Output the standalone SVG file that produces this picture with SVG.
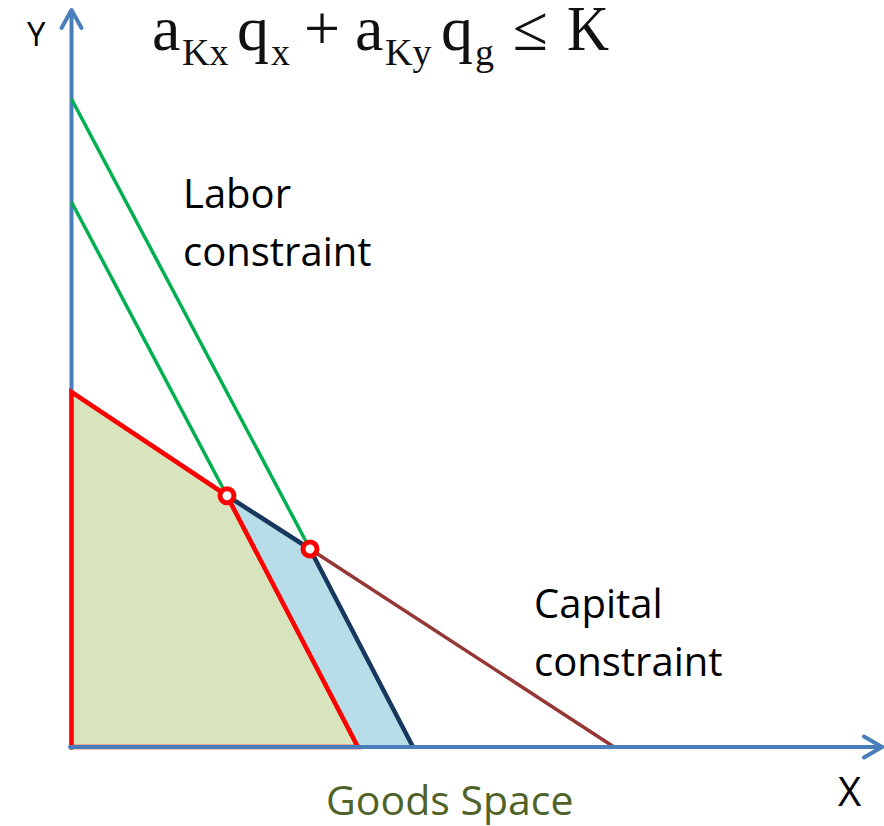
<svg xmlns="http://www.w3.org/2000/svg" width="884" height="826" viewBox="0 0 884 826">
<style>
.axis{stroke:#4A7EBB;stroke-width:4;fill:none;stroke-linecap:round;stroke-linejoin:round}
.lbl{font-family:"Open Sans","Liberation Sans",sans-serif;font-size:40px;fill:#000}
.f{font-family:"Liberation Serif","DejaVu Serif",serif;font-size:64px;fill:#111}
.fs{font-family:"Liberation Serif","DejaVu Serif",serif;font-size:38px;fill:#111}
.green{stroke:#00B050;stroke-width:3.5;fill:none}
.pt{fill:#fff;stroke:#FF0000;stroke-width:5}
</style>
<rect width="884" height="826" fill="#fff"/>
<g id="y-axis">
<line class="axis" x1="71.5" y1="748" x2="71.5" y2="11"/>
<polyline class="axis" points="61.5,28 71.5,10 81.5,28"/>
</g>
<g id="feasible-region-labor">
<polygon points="71.5,392 227,495.7 358,747 71.5,747" fill="#D7E4BD" stroke="#FF0000" stroke-width="4.5" stroke-linejoin="miter"/>
</g>
<g id="additional-region">
<polygon points="227,495.7 310,549 413,747 358,747" fill="#B7DEE8" stroke="none"/>
</g>
<g id="connectors">
<line class="green" x1="71.5" y1="99" x2="310" y2="549"/>
<line class="green" x1="71.5" y1="202" x2="227" y2="495.7"/>
<line x1="310" y1="549" x2="614" y2="747" stroke="#953735" stroke-width="3.5"/>
<polyline points="227,495.7 310,549 413,747" fill="none" stroke="#17375E" stroke-width="4.5" stroke-linejoin="round"/>
<polyline points="71.5,392 227,495.7 358,747" fill="none" stroke="#FF0000" stroke-width="4.5" stroke-linejoin="round"/>
</g>
<g id="x-axis">
<line class="axis" x1="70" y1="747" x2="882" y2="747"/>
<polyline class="axis" points="864,736.5 882,747 864,757.5"/>
</g>
<g id="points">
<circle class="pt" cx="227" cy="495.7" r="7"/>
<circle class="pt" cx="310" cy="549" r="7"/>
</g>
<g id="labels">
<text class="lbl" x="27" y="46" style="font-size:33px">Y</text>
<text class="lbl" x="838" y="806">X</text>
<text class="lbl" x="183" y="208">Labor</text>
<text class="lbl" x="183" y="266">constraint</text>
<text class="lbl" x="534" y="618">Capital</text>
<text class="lbl" x="534" y="676">constraint</text>
<text class="lbl" x="326" y="815" style="fill:#4F6228;font-size:41px">Goods Space</text>
</g>
<g id="formula">
<text class="f" x="152" y="50">a</text>
<text class="fs" x="182" y="65">Kx</text>
<text class="f" x="237" y="50">q</text>
<text class="fs" x="271" y="65">x</text>
<text class="f" x="322" y="50" text-anchor="middle">+</text>
<text class="f" x="355" y="50">a</text>
<text class="fs" x="385" y="65">Ky</text>
<text class="f" x="441" y="50">q</text>
<text class="fs" x="475" y="65">g</text>
<text class="f" x="530" y="50" text-anchor="middle">≤</text>
<text class="f" x="567" y="50" textLength="42" lengthAdjust="spacingAndGlyphs">K</text>
</g>
</svg>
